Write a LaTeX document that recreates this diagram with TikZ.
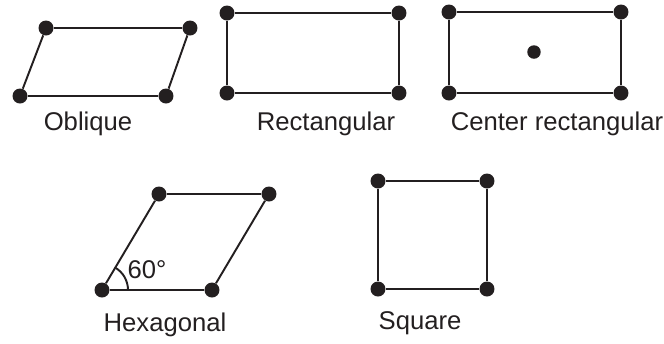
\documentclass[tikz,border=0pt]{standalone}
\usepackage{fontspec}
\setmainfont{Liberation Sans}
\definecolor{ink}{HTML}{231F20}
\begin{document}
\begin{tikzpicture}[x=0.02cm,y=-0.02cm,
  pt/.style={circle,fill=ink,inner sep=0pt,minimum size=0.3cm},
  cpt/.style={circle,fill=ink,inner sep=0pt,minimum size=0.27cm},
  edge/.style={draw=ink,line width=1.1pt},
  lbl/.style={font=\fontsize{14.6}{17}\selectfont,text=ink,inner sep=0pt}]
\useasboundingbox (0,0) rectangle (664,343);
% Oblique
\node[pt] (o1) at (46,28) {};
\node[pt] (o2) at (190,28) {};
\node[pt] (o3) at (166,96) {};
\node[pt] (o4) at (20,96) {};
\draw[edge] (o1) -- (o2) -- (o3) -- (o4) -- (o1);
\node[lbl] (ol) at (88,124) {Oblique};
% Rectangular
\node[pt] (r1) at (227,13) {};
\node[pt] (r2) at (399,13) {};
\node[pt] (r3) at (399,93) {};
\node[pt] (r4) at (227,93) {};
\draw[edge] (r1) -- (r2) -- (r3) -- (r4) -- (r1);
\node[lbl] (rl) at (326,124) {Rectangular};
% Center rectangular
\node[pt] (c1) at (449,12) {};
\node[pt] (c2) at (621,12) {};
\node[pt] (c3) at (621,93) {};
\node[pt] (c4) at (449,93) {};
\node[cpt] (c5) at (534,52) {};
\draw[edge] (c1) -- (c2) -- (c3) -- (c4) -- (c1);
\node[lbl] (cl) at (557,124) {Center rectangular};
% Hexagonal
\node[pt] (h1) at (159,194) {};
\node[pt] (h2) at (269,194) {};
\node[pt] (h3) at (212,290) {};
\node[pt] (h4) at (102,290) {};
\draw[edge] (h1) -- (h2) -- (h3) -- (h4) -- (h1);
\draw[edge] ([xshift=26*0.02cm]h4.center) arc[start angle=0,end angle=-60,radius=26];
\node[lbl] (hang) at (147,270) {60°};
\node[lbl] (hl) at (165,325) {Hexagonal};
% Square
\node[pt] (s1) at (378,181) {};
\node[pt] (s2) at (487,181) {};
\node[pt] (s3) at (487,289) {};
\node[pt] (s4) at (378,289) {};
\draw[edge] (s1) -- (s2) -- (s3) -- (s4) -- (s1);
\node[lbl] (sl) at (420,323) {Square};
\end{tikzpicture}
\end{document}
